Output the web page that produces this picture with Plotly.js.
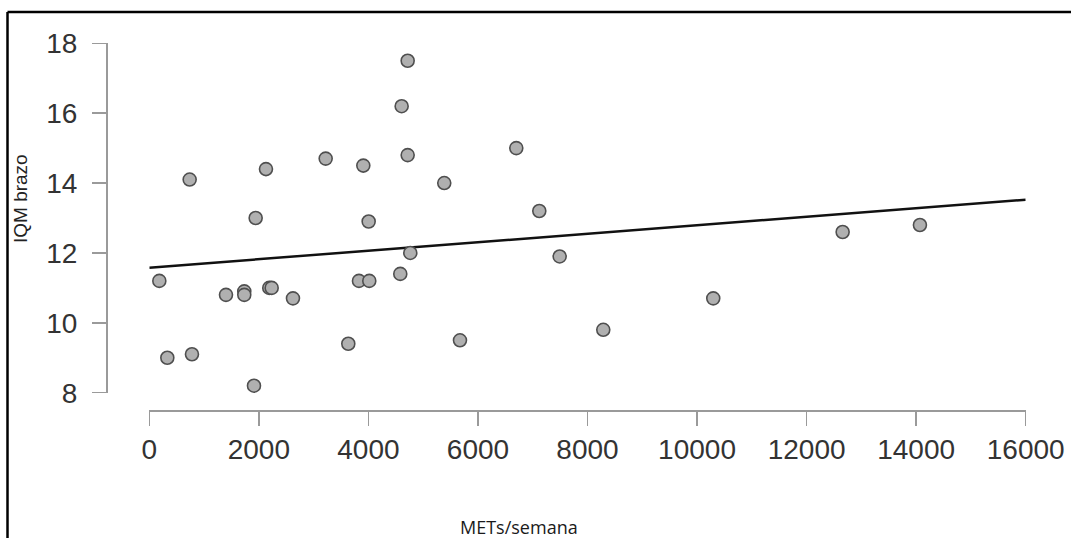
<!DOCTYPE html>
<html>
<head>
<meta charset="utf-8">
<script src="https://cdn.plot.ly/plotly-3.0.1.min.js"></script>
<style>
  html, body { margin: 0; padding: 0; background: #ffffff; }
  #chart { width: 1071px; height: 538px; }
</style>
</head>
<body>
<div id="chart"></div>
<script>
// METs/semana (x) and IQM brazo (y)
const metsSemana = [183, 329, 737, 779, 1400, 1734, 1734, 1911, 1942, 2130, 2190, 2234, 2623,
  3220, 3633, 3828, 3907, 4005, 4016, 4582, 4607, 4717, 4717, 4765, 5385, 5672,
  6700, 7120, 7492, 8288, 10296, 12658, 14069];
const iqmBrazo = [11.2, 9.0, 14.1, 9.1, 10.8, 10.9, 10.8, 8.2, 13.0, 14.4, 11.0, 11.0, 10.7,
  14.7, 9.4, 11.2, 14.5, 12.9, 11.2, 11.4, 16.2, 17.5, 14.8, 12.0, 14.0, 9.5,
  15.0, 13.2, 11.9, 9.8, 10.7, 12.6, 12.8];

const xTicks = [0, 2000, 4000, 6000, 8000, 10000, 12000, 14000, 16000];
const yTicks = [8, 10, 12, 14, 16, 18];
const xTitle = 'METs/semana';
const yTitle = 'IQM brazo';

// ordinary least squares fit
const n = metsSemana.length;
const mx = metsSemana.reduce((a, b) => a + b, 0) / n;
const my = iqmBrazo.reduce((a, b) => a + b, 0) / n;
let sxy = 0, sxx = 0;
for (let i = 0; i < n; i++) {
  sxy += (metsSemana[i] - mx) * (iqmBrazo[i] - my);
  sxx += (metsSemana[i] - mx) * (metsSemana[i] - mx);
}
const slope = sxy / sxx;
const intercept = my - slope * mx;
const fitX = [xTicks[0], xTicks[xTicks.length - 1]];
const fitY = fitX.map(v => intercept + slope * v);

const W = 1071, H = 538;
const tickFont = { family: 'Liberation Sans, Arial, sans-serif', size: 28, color: '#333333' };
const axisCommon = {
  showgrid: false, zeroline: false, showline: true,
  linecolor: '#9a9a9a', linewidth: 1.5,
  ticks: 'outside', ticklen: 14, tickwidth: 1.5, tickcolor: '#9a9a9a',
  tickfont: tickFont, fixedrange: true
};

const traces = [
  {
    x: fitX, y: fitY, type: 'scatter', mode: 'lines',
    line: { color: '#111111', width: 2.5 },
    hoverinfo: 'skip', cliponaxis: false
  },
  {
    x: metsSemana, y: iqmBrazo, type: 'scatter', mode: 'markers',
    marker: { size: 13, color: '#b0b0b0', line: { color: '#4f4f4f', width: 1.6 } },
    cliponaxis: false
  }
];

const layout = {
  width: W, height: H,
  margin: { l: 0, r: 0, t: 0, b: 0, pad: 0 },
  paper_bgcolor: '#ffffff', plot_bgcolor: '#ffffff',
  showlegend: false,
  xaxis: Object.assign({}, axisCommon, {
    domain: [149.3 / W, 1025.7 / W],
    range: [xTicks[0], xTicks[xTicks.length - 1]],
    tickmode: 'array', tickvals: xTicks, ticktext: xTicks.map(String),
    ticklabelstandoff: 0,
    anchor: 'free', position: (H - 410) / H
  }),
  yaxis: Object.assign({}, axisCommon, {
    domain: [1 - 392.7 / H, 1 - 43.3 / H],
    range: [yTicks[0], yTicks[yTicks.length - 1]],
    tickmode: 'array', tickvals: yTicks, ticktext: yTicks.map(String),
    ticklabelstandoff: 9,
    anchor: 'free', position: 106 / W
  }),
  annotations: [
    {
      text: xTitle, xref: 'paper', yref: 'paper',
      x: 519 / W, y: 1 - 527 / H, xanchor: 'center', yanchor: 'middle',
      showarrow: false,
      font: { family: 'Open Sans, sans-serif', size: 18, color: '#1a1a1a' }
    },
    {
      text: yTitle, xref: 'paper', yref: 'paper',
      x: 20 / W, y: 1 - 199 / H, xanchor: 'center', yanchor: 'middle',
      textangle: -90, showarrow: false,
      font: { family: 'Liberation Sans, Arial, sans-serif', size: 19, color: '#222222' }
    }
  ],
  shapes: [
    { type: 'line', xref: 'paper', yref: 'paper', x0: 7.5 / W, x1: 1, y0: 1 - 12 / H, y1: 1 - 12 / H,
      line: { color: '#000000', width: 2.5 } },
    { type: 'line', xref: 'paper', yref: 'paper', x0: 7.5 / W, x1: 7.5 / W, y0: 0, y1: 1 - 12 / H,
      line: { color: '#000000', width: 2.5 } }
  ]
};

Plotly.newPlot('chart', traces, layout, { displayModeBar: false, staticPlot: true });
</script>
</body>
</html>
